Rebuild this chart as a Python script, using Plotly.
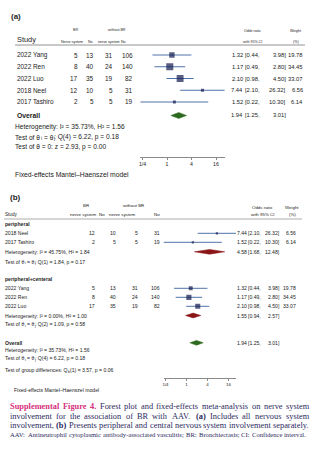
import math
import plotly.graph_objects as go

# ---------------- data ----------------
studies = ["2022 Yang", "2022 Ren", "2022 Luo", "2018 Neel", "2017 Tashiro"]
br_yes = [5, 8, 17, 12, 2]
br_no = [13, 40, 35, 10, 5]
nobr_yes = [31, 24, 19, 5, 5]
nobr_no = [106, 140, 82, 31, 19]
or_est = [1.32, 1.17, 2.10, 7.44, 1.52]
ci_lo = [0.44, 0.49, 0.98, 2.10, 0.22]
ci_hi = [3.98, 2.80, 4.50, 26.32, 10.30]
weights = [19.78, 34.45, 33.07, 6.56, 6.14]
groups = ["peripheral+centeral", "peripheral+centeral", "peripheral+centeral", "peripheral", "peripheral"]

overall = [1.94, 1.25, 3.01]
group_names = ["peripheral", "peripheral+centeral"]
group_est = [4.58, 1.55]
group_lo = [1.68, 0.94]
group_hi = [12.48, 2.57]
group_het = ["Heterogeneity: I² = 45.75%, H² = 1.84",
             "Heterogeneity: I² = 0.00%, H² = 1.00"]
# pieces: (text, is_subscript)
group_q = [[("Test of θ", 0), ("i", 1), (" = θ", 0), ("j", 1), (": Q(1) = 1.84, p = 0.17", 0)],
           [("Test of θ", 0), ("i", 1), (" = θ", 0), ("j", 1), (": Q(2) = 1.09, p = 0.58", 0)]]
overall_het = "Heterogeneity: I² = 35.73%, H² = 1.56"
overall_q = [("Test of θ", 0), ("i", 1), (" = θ", 0), ("j", 1), (": Q(4) = 6.22, p = 0.18", 0)]
overall_z = "Test of θ = 0: z = 2.93, p = 0.00"
group_diff = [("Test of group differences: Q", 0), ("b", 1), ("(1) = 3.57, p = 0.06", 0)]
model_note = "Fixed-effects Mantel–Haenszel model"
tick_vals = [0.25, 1, 4, 16]
tick_text = ["1/4", "1", "4", "16"]

# caption lines: list of (word, style) ; style m = magenta bold, b = bold, n = normal
caption_lines = [
    [("Supplemental", "m"), ("Figure", "m"), ("4.", "m"), ("Forest", "n"), ("plot", "n"), ("and", "n"),
     ("fixed-effects", "n"), ("meta-analysis", "n"), ("on", "n"), ("nerve", "n"), ("system", "n")],
    [("involvement", "n"), ("for", "n"), ("the", "n"), ("association", "n"), ("of", "n"), ("BR", "n"),
     ("with", "n"), ("AAV.", "n"), ("(a)", "b"), ("Includes", "n"), ("all", "n"), ("nervous", "n"),
     ("system", "n")],
    [("involvement,", "n"), ("(b)", "b"), ("Presents", "n"), ("peripheral", "n"), ("and", "n"),
     ("central", "n"), ("nervous", "n"), ("system", "n"), ("involvement", "n"), ("separately.", "n")],
]
caption_note = ("AAV: Antineutrophil cytoplasmic antibody-associated vasculitis; "
                "BR: Bronchiectasis; CI: Confidence interval.")

# ---------------- layout helpers ----------------
W, H = 321, 449
SANS = "Liberation Sans, Arial, sans-serif"
SERIF = "Liberation Serif, Times New Roman, serif"
SQ = "#13194f"
CI = "#4f73a8"
GREEN = "#2c6a1f"
RED = "#8a1517"
TXT = "#222222"
MAG = "#d6307c"
NAVY = "#2c2a5e"

annotations = []


def txt(x, y, s, size, anchor="left", color=TXT, family=SANS):
    annotations.append(dict(x=x / W, y=1 - y / H, xref="paper", yref="paper",
                            text=s, showarrow=False, xanchor=anchor, yanchor="middle",
                            font=dict(size=size, color=color, family=family),
                            borderpad=0, borderwidth=0))


shapes = []


def hline(x0, x1, y, color="#777777", width=0.8):
    shapes.append(dict(type="line", xref="paper", yref="paper",
                       x0=x0 / W, x1=x1 / W, y0=1 - y / H, y1=1 - y / H,
                       line=dict(color=color, width=width)))


# Arial (Liberation Sans) advance widths per 1000 em
AR = {' ': 278, 'T': 611, 'e': 556, 's': 500, 't': 278, 'o': 556, 'f': 278, 'θ': 556, 'i': 222,
      '=': 584, 'j': 222, ':': 278, 'Q': 778, '(': 333, ')': 333, '.': 278, ',': 278, 'p': 556,
      'g': 556, 'r': 333, 'u': 556, 'd': 556, 'c': 500, 'b': 556, 'n': 556}


def aw(s):
    return sum(AR.get(c, 556) for c in s) / 1000.0


def rich(x, y, pieces, size):
    cur = x
    for s, sub in pieces:
        fs = size * 0.7 if sub else size
        lead = len(s) - len(s.lstrip(" "))
        core = s.strip(" ")
        start = cur + aw(" " * lead) * fs
        txt(start, y + (0.3 * size if sub else 0), core, fs)
        cur += aw(s) * fs


# Times (Liberation Serif) advance widths per 1000 em
TR = {' ': 250, '(': 333, ')': 333, ',': 250, '-': 333, '.': 250, ':': 278, ';': 278,
      'A': 722, 'B': 667, 'C': 667, 'F': 556, 'I': 333, 'P': 556, 'R': 667, 'S': 556, 'V': 722,
      'a': 444, 'b': 500, 'c': 444, 'd': 500, 'e': 444, 'f': 333, 'g': 500, 'h': 500, 'i': 278,
      'j': 278, 'k': 500, 'l': 278, 'm': 778, 'n': 500, 'o': 500, 'p': 500, 'q': 500, 'r': 333,
      's': 389, 't': 278, 'u': 500, 'v': 500, 'w': 722, 'x': 500, 'y': 500, 'z': 444, '4': 500}
TB = {' ': 250, '(': 333, ')': 333, '.': 250, '4': 500, 'S': 556, 'F': 611, 'a': 500, 'b': 556,
      'e': 444, 'g': 500, 'i': 278, 'l': 278, 'm': 833, 'n': 556, 'p': 556, 'r': 444, 't': 333,
      'u': 556}


def wem(word, style):
    tab = TR if style == "n" else TB
    return sum(tab.get(c, 500) for c in word) / 1000.0


def natural(words):
    return sum(wem(w, s) for w, s in words) + 0.25 * (len(words) - 1)


def justify(words, y, x0, x1, size):
    total = sum(wem(w, s) for w, s in words) * size
    gap = (x1 - x0 - total) / (len(words) - 1)
    x = x0
    for w, s in words:
        if s == "m":
            t, col = f"<b>{w}</b>", MAG
        elif s == "b":
            t, col = f"<b>{w}</b>", NAVY
        else:
            t, col = w, NAVY
        txt(x, y, t, size, "left", col, SERIF)
        x += wem(w, s) * size + gap


fig = go.Figure()


def diamond(est, lo, hi, y, h, color, axes):
    fig.add_trace(go.Scatter(x=[lo, est, hi, est, lo], y=[y, y - h, y, y + h, y],
                             fill="toself", fillcolor=color, mode="lines",
                             line=dict(color=color, width=0.5), xaxis=axes[0], yaxis=axes[1],
                             hoverinfo="skip", showlegend=False))


def forest(rows, idx, xa, ya, k):
    xs, ys = [], []
    for r, i in zip(rows, idx):
        xs += [ci_lo[i], ci_hi[i], None]
        ys += [r, r, None]
    fig.add_trace(go.Scatter(x=xs, y=ys, mode="lines", line=dict(color=CI, width=1),
                             xaxis=xa, yaxis=ya, hoverinfo="skip", showlegend=False))
    fig.add_trace(go.Scatter(x=[or_est[i] for i in idx], y=rows, mode="markers",
                             marker=dict(symbol="square", color=SQ,
                                         size=[k * math.sqrt(weights[i]) for i in idx],
                                         line=dict(width=0)),
                             xaxis=xa, yaxis=ya, hoverinfo="skip", showlegend=False))


def fmt_ci(xe, xl, xh, y, est, lo, hi, size):
    txt(xe, y, f"{est:.2f}", size, "right")
    txt(xl, y, f"[{lo:.2f},", size, "left")
    txt(xh, y, f"{hi:.2f}]", size, "right")


# ================= panel (a) =================
SA = 6.4
SR = 5.8
HS = 3.6
txt(11, 16, "<b>(a)</b>", 8)
txt(75, 30, "BR", HS, "center")
txt(117, 30, "without BR", HS, "center")
txt(252, 31, "Odds ratio", HS, "center")
txt(295, 31, "Weight", HS, "center")
txt(17, 40, "Study", 7.4)
txt(72, 41.5, "Nerve system", HS, "center")
txt(91, 41.5, "No", HS, "center")
txt(108, 41.5, "nerve system", HS, "center")
txt(123, 41.5, "No", HS, "center")
txt(252, 41.5, "with 95% CI", HS, "center")
txt(296, 41.5, "(%)", HS, "center")
hline(15, 305, 45)

rows_a = [55 + 11.75 * i for i in range(len(studies))]
for i, r in enumerate(rows_a):
    txt(17, r, studies[i], SA)
    txt(77.5, r, str(br_yes[i]), SA, "right")
    txt(94, r, str(br_no[i]), SA, "right")
    txt(113, r, str(nobr_yes[i]), SA, "right")
    txt(132.5, r, str(nobr_no[i]), SA, "right")
    fmt_ci(243, 244.5, 285.5, r, or_est[i], ci_lo[i], ci_hi[i], SR)
    txt(303, r, f"{weights[i]:.2f}", SR, "right")
forest(rows_a, list(range(len(studies))), "x", "y", 1.2)

y_over_a = 115.5
txt(17, y_over_a, "<b>Overall</b>", 6.8)
diamond(overall[0], overall[1], overall[2], y_over_a, 3.0, GREEN, ("x", "y"))
fmt_ci(243, 244.5, 285.5, y_over_a, overall[0], overall[1], overall[2], SR)
txt(15, 127, overall_het, 6.6)
rich(15, 137, overall_q, 6.6)
txt(15, 147, overall_z, 6.6)
txt(15, 174.5, model_note, 6.8)

# ================= panel (b) =================
txt(10, 198, "<b>(b)</b>", 8)
txt(86, 205.5, "BR", 4.4, "center")
txt(133, 205.5, "without BR", 4.4, "center")
txt(262, 207, "Odds ratio", 4.4, "center")
txt(292, 207, "Weight", 4.4, "center")
txt(5, 215, "Study", 4.6)
txt(83, 215, "nerve system", 4.4, "center")
txt(102, 215, "No", 4.4, "center")
txt(122, 215, "nerve system", 4.4, "center")
txt(157, 215, "No", 4.4, "center")
txt(262, 215, "with 95% CI", 4.4, "center")
txt(292, 215, "(%)", 4.4, "center")
hline(4, 302, 219, width=0.6)

SB = 5.1
group_rows = {
    "peripheral": dict(title=224, rows=[233.3, 242.3], het=251.8, q=261.7),
    "peripheral+centeral": dict(title=279.3, rows=[288.3, 297.3, 306.3], het=315.5, q=324),
}
for g, gname in enumerate(group_names):
    cfg = group_rows[gname]
    idx = [i for i in range(len(studies)) if groups[i] == gname]
    idx = sorted(idx, key=lambda i: -int(studies[i][:4]))
    txt(5, cfg["title"], f"<b>{gname}</b>", SB)
    for r, i in zip(cfg["rows"], idx):
        txt(5, r, studies[i], SB)
        txt(95, r, str(br_yes[i]), SB, "right")
        txt(115.5, r, str(br_no[i]), SB, "right")
        txt(137.5, r, str(nobr_yes[i]), SB, "right")
        txt(160, r, str(nobr_no[i]), SB, "right")
        fmt_ci(247, 248, 280, r, or_est[i], ci_lo[i], ci_hi[i], SB)
        txt(296, r, f"{weights[i]:.2f}", SB, "right")
    forest(cfg["rows"], idx, "x2", "y2", 0.88)
    txt(5, cfg["het"], group_het[g], SB)
    diamond(group_est[g], group_lo[g], group_hi[g], cfg["het"], 2.4, RED, ("x2", "y2"))
    fmt_ci(247, 248, 280, cfg["het"], group_est[g], group_lo[g], group_hi[g], SB)
    rich(5, cfg["q"], group_q[g], SB)

y_over_b = 342.8
txt(5, y_over_b, "<b>Overall</b>", SB)
diamond(overall[0], overall[1], overall[2], y_over_b, 2.4, GREEN, ("x2", "y2"))
fmt_ci(247, 248, 280, y_over_b, overall[0], overall[1], overall[2], SB)
txt(5, 350.3, overall_het, SB)
rich(5, 358, overall_q, SB)
rich(5, 370, group_diff, SB)
txt(14, 389.5, model_note, SB)

# ================= caption (justified) =================
cap_size = min(9.0, min(297.0 / natural(ln) for ln in caption_lines))
for ln, y in zip(caption_lines, [406.5, 416, 425.5]):
    justify(ln, y, 10, 309, cap_size)
note_words = [(w, "n") for w in caption_note.split(" ")]
note_size = min(6.6, 294.0 / natural(note_words))
justify(note_words, 434.5, 10, 306, note_size)

# ================= axes =================
lo_all = min(ci_lo)
hi_all = max(ci_hi)
span2 = math.log2(hi_all / lo_all)


def axis_dom(one_px, per_log2):
    left = one_px - per_log2 * math.log2(1 / lo_all)
    return [left / W, (left + per_log2 * span2) / W]


xcommon = dict(type="log", range=[math.log10(lo_all), math.log10(hi_all)],
               showline=True, linecolor="#8a8a8a", linewidth=0.8, ticks="outside",
               ticklen=2, tickwidth=0.8, tickcolor="#8a8a8a", showgrid=False, zeroline=False,
               tickvals=tick_vals, ticktext=tick_text, fixedrange=True)
ycommon = dict(visible=False, showgrid=False, zeroline=False, fixedrange=True)

fig.update_layout(
    width=W, height=H, margin=dict(l=0, r=0, t=0, b=0),
    paper_bgcolor="white", plot_bgcolor="rgba(0,0,0,0)", showlegend=False,
    xaxis=dict(**xcommon, domain=axis_dom(167, 12.25), anchor="y",
               tickfont=dict(size=5.2, family=SANS, color=TXT)),
    yaxis=dict(**ycommon, domain=[1 - 157 / H, 1], range=[157, 0], anchor="x"),
    xaxis2=dict(**xcommon, domain=axis_dom(186.5, 10.5), anchor="y2",
                tickfont=dict(size=4.4, family=SANS, color=TXT)),
    yaxis2=dict(**ycommon, domain=[1 - 378 / H, 1], range=[378, 0], anchor="x2"),
    annotations=annotations, shapes=shapes,
)

fig.write_html("out.html")
